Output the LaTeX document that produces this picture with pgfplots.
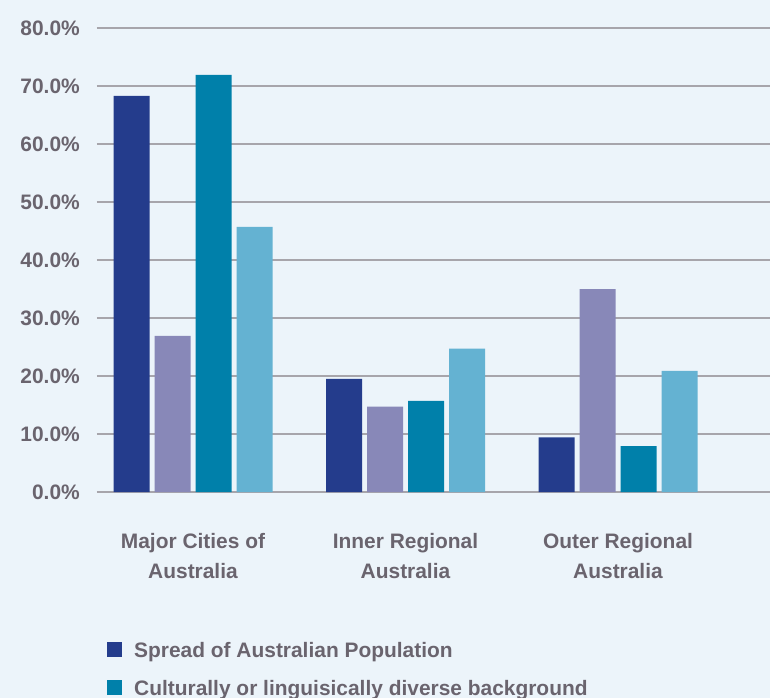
\documentclass[border=0pt]{standalone}
\usepackage{fontspec}
\setmainfont{Liberation Sans}
\usepackage{pgfplots}
\pgfplotsset{compat=1.18}
\definecolor{bgc}{HTML}{ECF4FA}
\definecolor{txt}{HTML}{6A646E}
\definecolor{gridc}{HTML}{A7A5AB}
\definecolor{c1}{HTML}{243C8C}
\definecolor{c2}{HTML}{8888B8}
\definecolor{c3}{HTML}{0080AA}
\definecolor{c4}{HTML}{64B2D2}
\begin{document}
\begin{tikzpicture}
\fill[bgc] (-97bp,-206bp) rectangle (673bp,492bp);
\begin{axis}[
  width=673bp, height=464bp, scale only axis,
  xmin=-0.4518, xmax=2.7153, ymin=0, ymax=80,
  ybar, bar width=36bp,
  axis line style={draw=none},
  major tick length=0pt,
  ymajorgrids, grid style={gridc, line width=1.5bp},
  ytick={0,10,...,80},
  xtick={0,1,2},
  xticklabels={{Major Cities of\\Australia},{Inner Regional\\Australia},{Outer Regional\\Australia}},
  /pgf/number format/assume math mode=true,
  yticklabel={\pgfmathprintnumber[fixed,fixed zerofill,precision=1]{\tick}\%},
  yticklabel style={font=\fontsize{21}{25}\selectfont\bfseries, text=txt, inner sep=0pt, anchor=east, xshift=-17bp},
  xticklabel style={font=\fontsize{21}{30}\selectfont\bfseries, text=txt, inner sep=0pt, anchor=north, align=center, yshift=-41bp},
  legend style={draw=none, fill=none, inner sep=0pt, at={(0.01486,-0.3233)}, anchor=north west,
    font=\fontsize{21}{25}\selectfont\bfseries, text=txt,
    nodes={inner sep=0pt, text height=15bp, text depth=4bp},
    row sep=19bp,
    /tikz/every odd column/.append style={column sep=12bp}},
  legend cell align=left,
  legend image code/.code={\fill[#1,draw=none] (0bp,-5.4bp) rectangle (15bp,9.6bp);},
]
\addplot[fill=c1, draw=none, bar shift=-61.5bp] coordinates {(0,68.3) (1,19.5) (2,9.4)};
\addlegendentry{Spread of Australian Population}
\addplot[fill=c2, draw=none, bar shift=-20.5bp, forget plot] coordinates {(0,26.9) (1,14.7) (2,35.0)};
\addplot[fill=c3, draw=none, bar shift=20.5bp] coordinates {(0,71.9) (1,15.7) (2,7.9)};
\addlegendentry{Culturally or linguisically diverse background}
\addplot[fill=c4, draw=none, bar shift=61.5bp, forget plot] coordinates {(0,45.7) (1,24.7) (2,20.9)};
\end{axis}
\pgfresetboundingbox
\useasboundingbox (-97bp,-206bp) rectangle (673bp,492bp);
\end{tikzpicture}
\end{document}
